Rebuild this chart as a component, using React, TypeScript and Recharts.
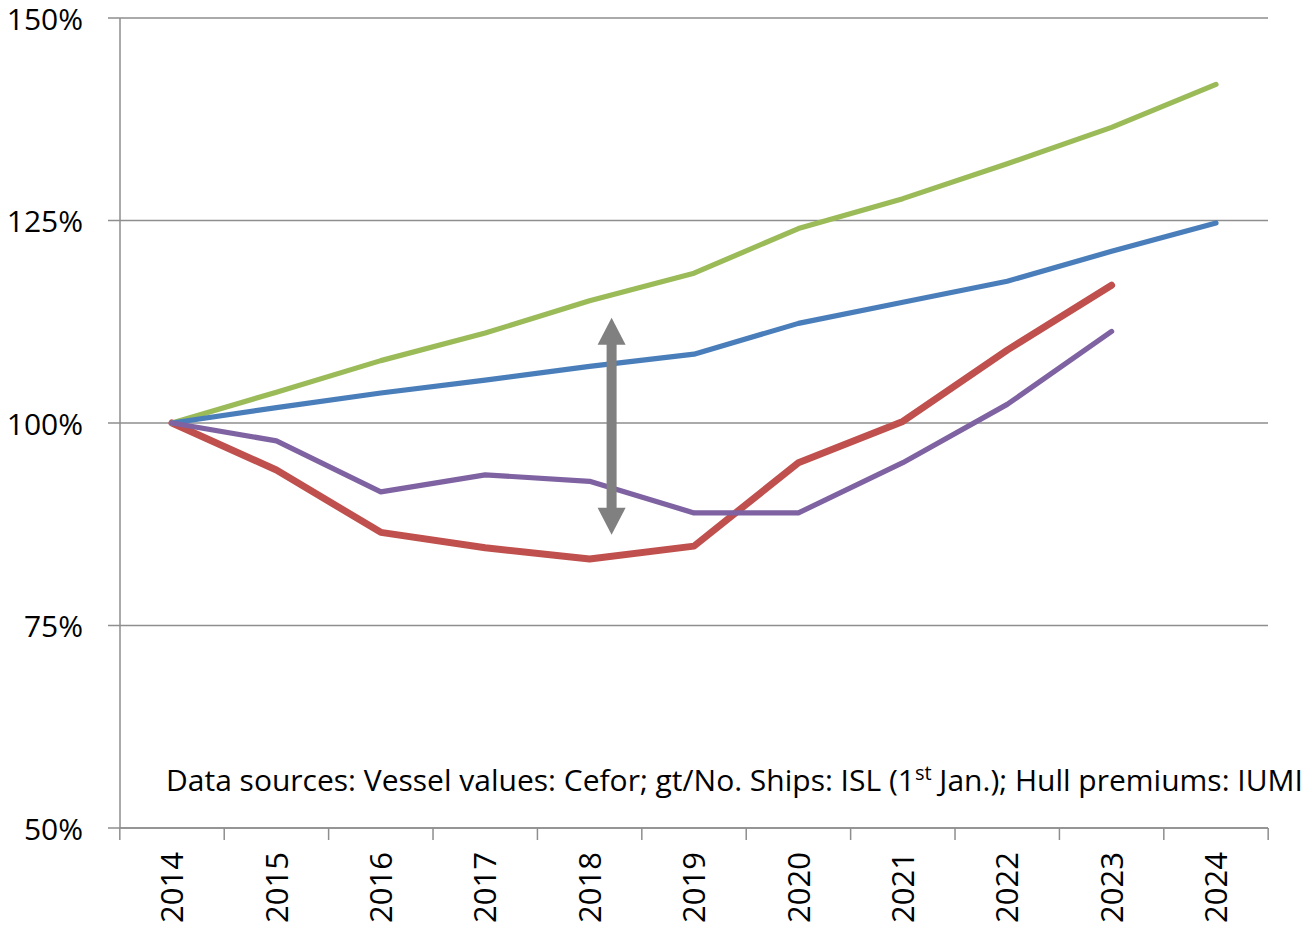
import { CartesianGrid, Line, LineChart, ReferenceLine, XAxis, YAxis } from "recharts";

const years = ["2014", "2015", "2016", "2017", "2018", "2019", "2020", "2021", "2022", "2023", "2024"];
const vesselValues = [100, 94.2, 86.5, 84.6, 83.2, 84.8, 95.1, 100.2, 109.0, 117.0];
const gtShips = [100, 103.8, 107.7, 111.1, 115.1, 118.5, 124.0, 127.7, 132.0, 136.5, 141.8];
const noShips = [100, 101.9, 103.7, 105.3, 107.0, 108.5, 112.3, 114.9, 117.5, 121.2, 124.7];
const hullPremiums = [100, 97.8, 91.5, 93.6, 92.8, 88.9, 88.9, 95.1, 102.3, 111.3];
const yTicks = [50, 75, 100, 125, 150];
const arrowRange = [113, 86.2];

const data = years.map((year, i) => ({
  year,
  red: vesselValues[i],
  green: gtShips[i],
  blue: noShips[i],
  purple: hullPremiums[i],
}));

const FONT = "'Open Sans', sans-serif";
const GRID = "#8e8e8e";
const BAND = 104.36;

function YearTick(props: any) {
  const { x, y, payload, index } = props;
  const last = index === years.length - 1;
  return (
    <g>
      <line x1={x - BAND / 2} x2={x - BAND / 2} y1={y - 24} y2={y - 12} stroke={GRID} strokeWidth={1.5} />
      {last && <line x1={x + BAND / 2} x2={x + BAND / 2} y1={y - 24} y2={y - 12} stroke={GRID} strokeWidth={1.5} />}
      <text
        x={x}
        y={y}
        dy="0.36em"
        transform={`rotate(-90, ${x}, ${y})`}
        textAnchor="end"
        fontFamily={FONT}
        fontSize={31}
        fill="#000"
      >
        {payload.value}
      </text>
    </g>
  );
}

function Arrow(props: any) {
  const { x1, y1, y2 } = props;
  const x = x1 + 22;
  const head = 27;
  const hw = 14;
  return (
    <g fill="#808080">
      <rect x={x - 5} y={y1 + head - 1} width={10} height={y2 - y1 - 2 * head + 2} />
      <polygon points={`${x},${y1} ${x - hw},${y1 + head} ${x + hw},${y1 + head}`} />
      <polygon points={`${x},${y2} ${x - hw},${y2 - head} ${x + hw},${y2 - head}`} />
    </g>
  );
}

export default function App() {
  return (
    <div style={{ position: "absolute", left: 0, top: 0, width: 1309, height: 928, background: "#fff" }}>
      <LineChart width={1309} height={928} data={data} margin={{ top: 18, right: 41, left: 0, bottom: 0 }}>
        <CartesianGrid vertical={false} stroke={GRID} strokeWidth={1.5} />
        <XAxis
          dataKey="year"
          height={100}
          padding={{ left: 52, right: 52 }}
          stroke={GRID}
          strokeWidth={1.5}
          tickLine={false}
          tickSize={12}
          tickMargin={12}
          interval={0}
          tick={<YearTick />}
        />
        <YAxis
          width={120}
          domain={[50, 150]}
          ticks={yTicks}
          interval={0}
          tickFormatter={(v: number) => `${v}%`}
          stroke={GRID}
          strokeWidth={1.5}
          tickSize={12}
          tickMargin={25}
          tick={{ fill: "#000", fontSize: 30, fontFamily: FONT, dy: 1 }}
        />
        <Line dataKey="red" stroke="#c0504d" strokeWidth={7} strokeLinecap="round" strokeLinejoin="round" dot={false} isAnimationActive={false} />
        <Line dataKey="green" stroke="#9bbb59" strokeWidth={5.2} strokeLinecap="round" strokeLinejoin="round" dot={false} isAnimationActive={false} />
        <Line dataKey="blue" stroke="#4a7ebb" strokeWidth={5.2} strokeLinecap="round" strokeLinejoin="round" dot={false} isAnimationActive={false} />
        <Line dataKey="purple" stroke="#7f62a1" strokeWidth={5.2} strokeLinecap="round" strokeLinejoin="round" dot={false} isAnimationActive={false} />
        <ReferenceLine
          segment={[
            { x: "2018", y: arrowRange[0] },
            { x: "2018", y: arrowRange[1] },
          ]}
          shape={<Arrow />}
        />
      </LineChart>
      <div
        style={{
          position: "absolute",
          left: 166,
          top: 759,
          fontFamily: FONT,
          fontSize: 30,
          color: "#000",
          whiteSpace: "nowrap",
        }}
      >
        Data sources: Vessel values: Cefor; gt/No. Ships: ISL (1<sup style={{ fontSize: 20 }}>st</sup> Jan.); Hull premiums: IUMI
      </div>
    </div>
  );
}
